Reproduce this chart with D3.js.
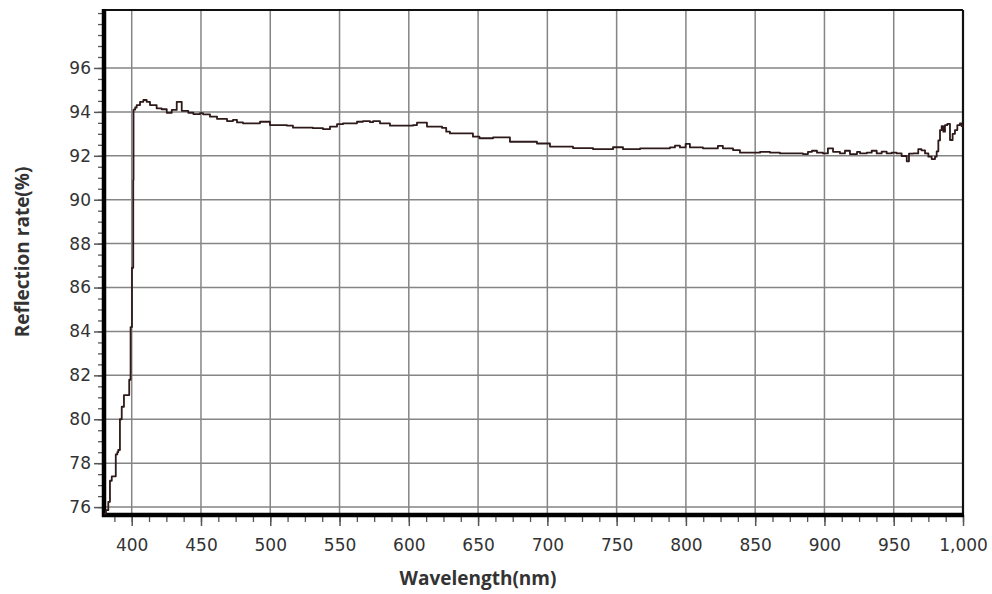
<!DOCTYPE html>
<html>
<head>
<meta charset="utf-8">
<script src="https://cdn.jsdelivr.net/npm/d3@7"></script>
<style>
  body { margin: 0; background: #fff; }
  svg { display: block; }
</style>
</head>
<body>
<div id="chart"></div>
<script>
// Reflection spectrum
const wavelengths = [
  380, 381.4, 383.1, 384.3, 385.6, 388, 388.5, 389.6, 390.3, 391.5, 392.8, 394.4, 395.5, 397.5,
  398.2, 399.2, 400.2, 401.1, 401.3, 402.5, 403.6, 406, 408.4, 410.8, 413.2, 415.6, 418, 421.6,
  425.3, 428.9, 432.5, 436.1, 440.8, 444.5, 449.3, 451.5, 456.5, 461.6, 465.9, 468.8, 473.1,
  476, 480.3, 490.4, 492.6, 497.6, 499.8, 512.1, 516.4, 526.5, 530.8, 538.1, 543.1, 548.2,
  552.5, 562.6, 566.9, 572, 574.2, 579.2, 586.4, 595.8, 603, 605.9, 613.1, 624, 627, 629.7,
  646.3, 651, 660.8, 673, 692.5, 701.9, 718.5, 733, 747.4, 754.6, 766.9, 776.3, 781.3, 788.5,
  792.1, 795.7, 799.8, 802.9, 812.3, 823.1, 826.7, 834, 839, 848.4, 853.5, 860.7, 867.9, 877.3,
  884.5, 888.1, 891, 894.6, 898.9, 902.5, 906.2, 911.2, 914.8, 918.4, 923.5, 925.7, 930.5,
  934.1, 937.7, 941.3, 944.9, 948.5, 952.1, 955.7, 959.4, 961, 964.1, 967.7, 970, 972.6, 975,
  977.4, 979.8, 981, 982.2, 983.4, 984.6, 985.8, 987, 988.7, 990.6, 992.5, 994.2, 995.9, 997.8,
  999, 1000
];
const reflectance = [
  75.7, 75.86, 76.24, 77.2, 77.4, 77.4, 78.4, 78.5, 78.6, 80.0, 80.57, 81.1, 81.1, 81.1,
  81.8, 84.2, 86.9, 90.9, 94.1, 94.2, 94.31, 94.46, 94.54, 94.46, 94.31, 94.31, 94.16, 94.12,
  93.96, 94.09, 94.46, 94.05, 93.96, 93.9, 93.94, 93.89, 93.78, 93.68, 93.68, 93.58, 93.64,
  93.52, 93.48, 93.48, 93.55, 93.55, 93.4, 93.37, 93.28, 93.28, 93.26, 93.21, 93.33, 93.44,
  93.48, 93.55, 93.58, 93.53, 93.58, 93.48, 93.37, 93.37, 93.4, 93.51, 93.33, 93.27, 93.1, 93.02,
  92.87, 92.8, 92.84, 92.64, 92.56, 92.42, 92.35, 92.3, 92.39, 92.3, 92.34, 92.34, 92.34, 92.38,
  92.46, 92.38, 92.54, 92.38, 92.34, 92.45, 92.34, 92.26, 92.14, 92.14, 92.18, 92.14, 92.11, 92.11,
  92.08, 92.18, 92.23, 92.14, 92.11, 92.34, 92.18, 92.11, 92.23, 92.08, 92.18, 92.11, 92.14,
  92.23, 92.11, 92.19, 92.11, 92.14, 92.11, 91.99, 91.75, 92.1, 92.11, 92.3, 92.25, 92.11, 91.96,
  91.85, 91.96, 92.2, 92.7, 93.17, 93.35, 93.1, 93.4, 93.45, 92.72, 93.0, 93.17, 93.4, 93.48,
  93.35, 93.3
];
const xTicks = [400, 450, 500, 550, 600, 650, 700, 750, 800, 850, 900, 950, 1000];
const yTicks = [76, 78, 80, 82, 84, 86, 88, 90, 92, 94, 96];

const width = 992, height = 594;
const plot = { left: 104, right: 963, top: 10, bottom: 515 };

const svg = d3.select('#chart')
  .append('svg')
  .attr('width', width)
  .attr('height', height);

const x = d3.scaleLinear().domain([380, 1000]).range([plot.left, plot.right]);
const y = d3.scaleLinear().domain([75.64, 98.64]).range([plot.bottom, plot.top]);

// Gridlines
svg.append('g')
  .selectAll('line')
  .data(xTicks.filter(d => d < 1000))
  .enter()
  .append('line')
  .attr('x1', d => x(d)).attr('x2', d => x(d))
  .attr('y1', plot.top).attr('y2', plot.bottom)
  .attr('stroke', '#858585')
  .attr('stroke-width', 1.5);
svg.append('g')
  .selectAll('line')
  .data(yTicks)
  .enter()
  .append('line')
  .attr('x1', plot.left).attr('x2', plot.right)
  .attr('y1', d => y(d)).attr('y2', d => y(d))
  .attr('stroke', '#858585')
  .attr('stroke-width', 1.5);

// Minor ticks
const xMinor = d3.range(387.5, 1000.1, 12.5);
const yMinor = d3.range(76, 98.6, 0.5);
svg.append('g')
  .attr('transform', 'translate(0,' + plot.bottom + ')')
  .call(d3.axisBottom(x).tickValues(xMinor).tickSize(7).tickFormat(''))
  .call(g => g.select('.domain').remove())
  .selectAll('line').attr('stroke', '#555').attr('stroke-width', 1.3);
svg.append('g')
  .attr('transform', 'translate(' + plot.left + ',0)')
  .call(d3.axisLeft(y).tickValues(yMinor).tickSize(6).tickFormat(''))
  .call(g => g.select('.domain').remove())
  .selectAll('line').attr('stroke', '#555').attr('stroke-width', 1.3);

// Major axes
const xAxis = svg.append('g')
  .attr('transform', 'translate(0,' + plot.bottom + ')')
  .call(d3.axisBottom(x).tickValues(xTicks).tickSize(11).tickPadding(13).tickFormat(d3.format(',')));
const yAxis = svg.append('g')
  .attr('transform', 'translate(' + plot.left + ',0)')
  .call(d3.axisLeft(y).tickValues(yTicks).tickSize(10).tickPadding(3));
[xAxis, yAxis].forEach(g => {
  g.select('.domain').remove();
  g.selectAll('line').attr('stroke', '#555').attr('stroke-width', 1.5);
  g.selectAll('text')
    .attr('fill', '#333')
    .style('font-family', '"DejaVu Sans", sans-serif')
    .style('font-size', '17px');
});

// Frame: thin top/right, thick left/bottom
svg.append('line')
  .attr('x1', plot.left).attr('x2', plot.right)
  .attr('y1', plot.top).attr('y2', plot.top)
  .attr('stroke', '#111').attr('stroke-width', 2.2);
svg.append('line')
  .attr('x1', plot.right).attr('x2', plot.right)
  .attr('y1', plot.top).attr('y2', plot.bottom)
  .attr('stroke', '#111').attr('stroke-width', 2.2);
svg.append('line')
  .attr('x1', plot.left).attr('x2', plot.left)
  .attr('y1', plot.top - 1).attr('y2', plot.bottom + 2)
  .attr('stroke', '#000').attr('stroke-width', 4.5);
svg.append('line')
  .attr('x1', plot.left - 2).attr('x2', plot.right + 1)
  .attr('y1', plot.bottom).attr('y2', plot.bottom)
  .attr('stroke', '#000').attr('stroke-width', 4.5);

// Spectrum line (stepped, like the instrument trace)
const data = wavelengths.map((w, i) => ({ w: w, r: reflectance[i] }));
svg.append('path')
  .datum(data)
  .attr('fill', 'none')
  .attr('stroke', '#2e1a1a')
  .attr('stroke-width', 1.8)
  .attr('stroke-linejoin', 'round')
  .attr('d', d3.line().curve(d3.curveStepAfter).x(d => x(d.w)).y(d => y(d.r)));

// Axis titles
svg.append('text')
  .attr('x', 478)
  .attr('y', 585)
  .attr('text-anchor', 'middle')
  .attr('fill', '#333')
  .style('font-family', '"Open Sans", sans-serif')
  .style('font-weight', 'bold')
  .style('font-size', '19px')
  .text('Wavelength(nm)');
svg.append('text')
  .attr('transform', 'translate(29,252) rotate(-90)')
  .attr('text-anchor', 'middle')
  .attr('fill', '#333')
  .style('font-family', '"Open Sans", sans-serif')
  .style('font-weight', 'bold')
  .style('font-size', '19px')
  .text('Reflection rate(%)');
</script>
</body>
</html>
